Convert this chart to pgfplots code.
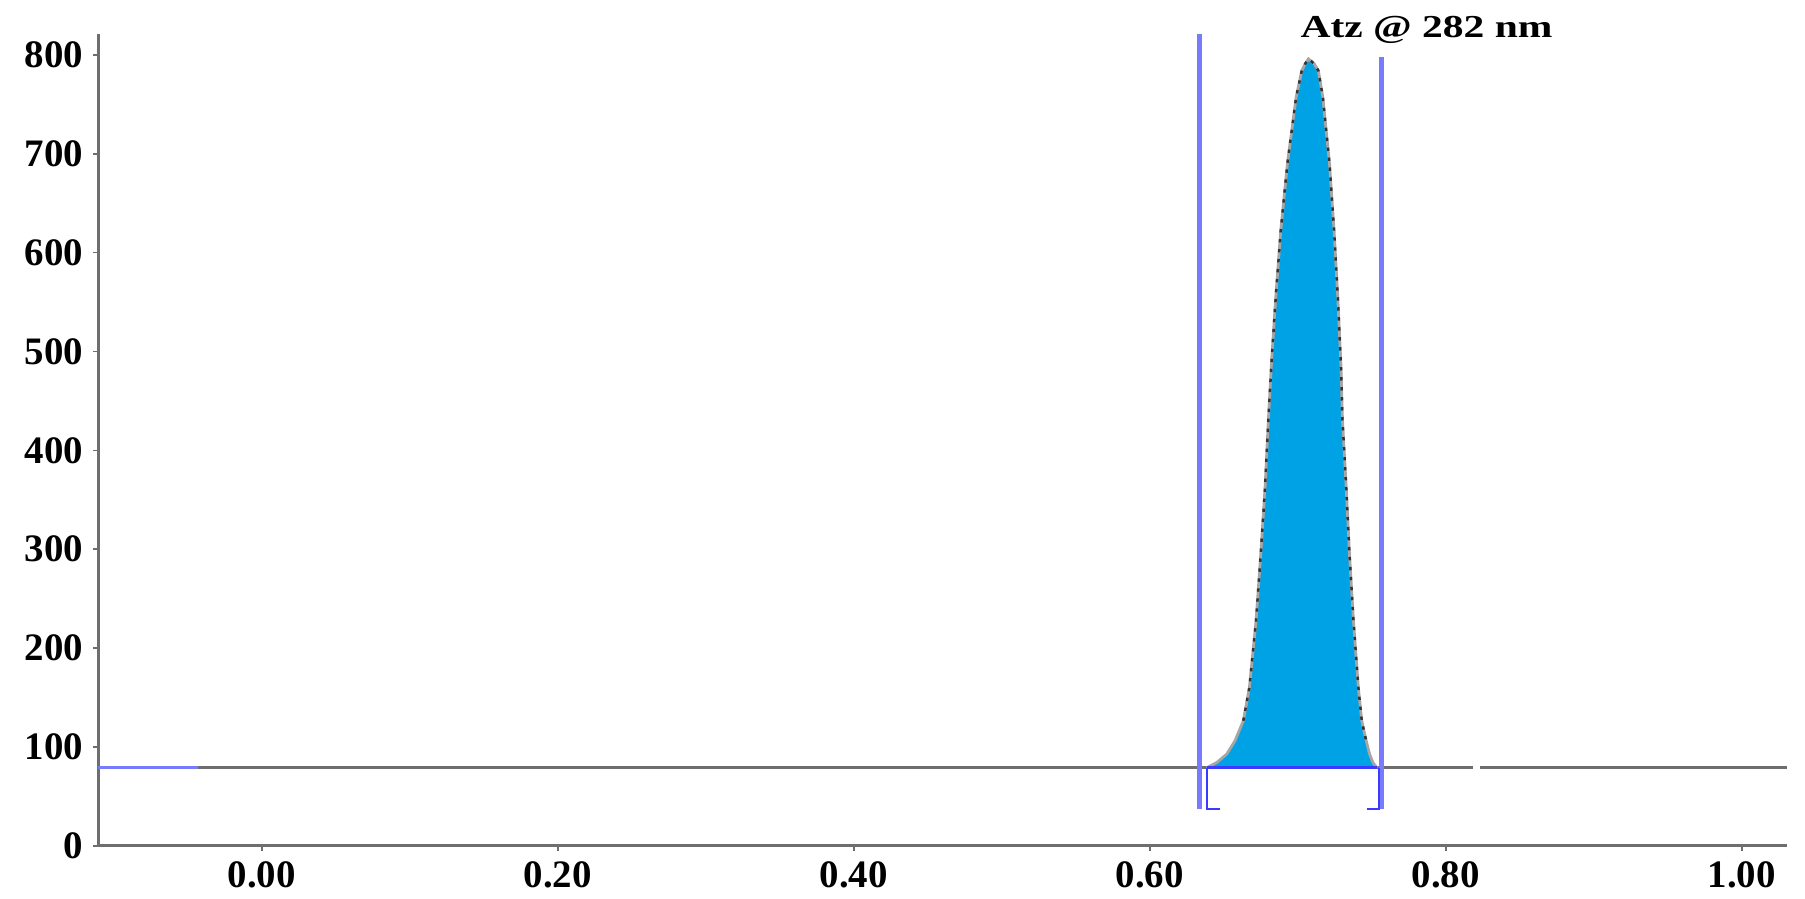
\documentclass[border=0pt]{standalone}
\usepackage{fontspec}
\setmainfont{Liberation Serif}
\usepackage{graphicx}
\usepackage{pgfplots}
\pgfplotsset{compat=1.18}
\definecolor{peakfill}{HTML}{00A2E6}
\definecolor{axgray}{HTML}{6E6E6E}
\definecolor{markline}{HTML}{7A7AFF}
\definecolor{bblue}{HTML}{3B3BFF}
\begin{document}
\begin{tikzpicture}
\path[use as bounding box] (-35.4pt,-18.8pt) rectangle (614.4pt,304.5pt);
\begin{axis}[
  scale only axis, width=607.9pt, height=292.2pt,
  xmin=-0.1104, xmax=1.0305, ymin=0, ymax=821,
  axis x line=bottom, axis y line=left,
  axis line style={-, axgray, line width=1.2pt},
  xtick={0,0.2,0.4,0.6,0.8,1.0},
  xticklabels={0.00,0.20,0.40,0.60,0.80,1.00},
  ytick={0,100,200,300,400,500,600,700,800},
  yticklabels={0,100,200,300,400,500,600,700,800},
  tick align=outside, major tick length=2pt,
  tick style={axgray, line width=0.6pt},
  ticklabel style={font=\fontsize{14}{16}\selectfont\bfseries},
  clip=false,
]
% baseline (gray, with a small gap)
\addplot[axgray, line width=1.1pt] coordinates {(-0.1104,79) (0.8186,79)};
\addplot[axgray, line width=1.1pt] coordinates {(0.8233,79) (1.0305,79)};
\addplot[markline, line width=1.1pt] coordinates {(-0.1104,79) (-0.043,79)};
% peak fill
\addplot[draw=none, fill=peakfill] coordinates {
(0.6385,79) (0.6453,84.3) (0.6520,92.8) (0.6576,106.3) (0.6632,126.5)
(0.6673,160.2) (0.6718,227.7) (0.6750,295.5) (0.6779,362.7) (0.6801,430.2)
(0.6822,487.9) (0.6851,555) (0.6885,622.5) (0.6930,690.3) (0.6989,757.4)
(0.7027,784) (0.7050,791) (0.7072,796) (0.7111,791) (0.7139,784)
(0.7169,757.4) (0.7214,690.3) (0.7245,622.5) (0.7270,555) (0.7291,487.9)
(0.7302,430.2) (0.7327,362.7) (0.7349,295.5) (0.7376,227.7) (0.7409,160.2)
(0.7432,126.5) (0.7462,106.3) (0.7485,92.8) (0.7507,84.3) (0.7534,79)};
% peak outline
\addplot[gray!70, line width=1pt] coordinates {
(0.6385,79) (0.6453,84.3) (0.6520,92.8) (0.6576,106.3) (0.6632,126.5)
(0.6673,160.2) (0.6718,227.7) (0.6750,295.5) (0.6779,362.7) (0.6801,430.2)
(0.6822,487.9) (0.6851,555) (0.6885,622.5) (0.6930,690.3) (0.6989,757.4)
(0.7027,784) (0.7050,791) (0.7072,796) (0.7111,791) (0.7139,784)
(0.7169,757.4) (0.7214,690.3) (0.7245,622.5) (0.7270,555) (0.7291,487.9)
(0.7302,430.2) (0.7327,362.7) (0.7349,295.5) (0.7376,227.7) (0.7409,160.2)
(0.7432,126.5) (0.7462,106.3) (0.7485,92.8) (0.7507,84.3) (0.7534,79)};
\addplot[black!80, line width=0.9pt, dash pattern=on 1.2pt off 2.4pt] coordinates {
(0.6632,126.5)
(0.6673,160.2) (0.6718,227.7) (0.6750,295.5) (0.6779,362.7) (0.6801,430.2)
(0.6822,487.9) (0.6851,555) (0.6885,622.5) (0.6930,690.3) (0.6989,757.4)
(0.7027,784) (0.7050,791) (0.7072,796) (0.7111,791) (0.7139,784)
(0.7169,757.4) (0.7214,690.3) (0.7245,622.5) (0.7270,555) (0.7291,487.9)
(0.7302,430.2) (0.7327,362.7) (0.7349,295.5) (0.7376,227.7) (0.7409,160.2)
(0.7432,126.5) (0.7462,106.3)};
% integration baseline
\addplot[bblue, line width=1pt] coordinates {(0.6385,79) (0.7534,79)};
% integration limits
\addplot[markline, line width=1.8pt] coordinates {(0.6333,37) (0.6333,821)};
\addplot[markline, line width=1.8pt] coordinates {(0.7563,37) (0.7563,798)};
\addplot[bblue, line width=0.8pt] coordinates {(0.6385,79) (0.6385,37.5) (0.6475,37.5)};
\addplot[bblue, line width=0.8pt] coordinates {(0.7551,79) (0.7551,37.5) (0.7466,37.5)};
\node[anchor=base, inner sep=0pt] at (axis cs:0.787,818)
  {\scalebox{1.3}[1]{\fontsize{11.5}{13}\selectfont\bfseries Atz @ 282 nm}};
\end{axis}
\end{tikzpicture}
\end{document}
